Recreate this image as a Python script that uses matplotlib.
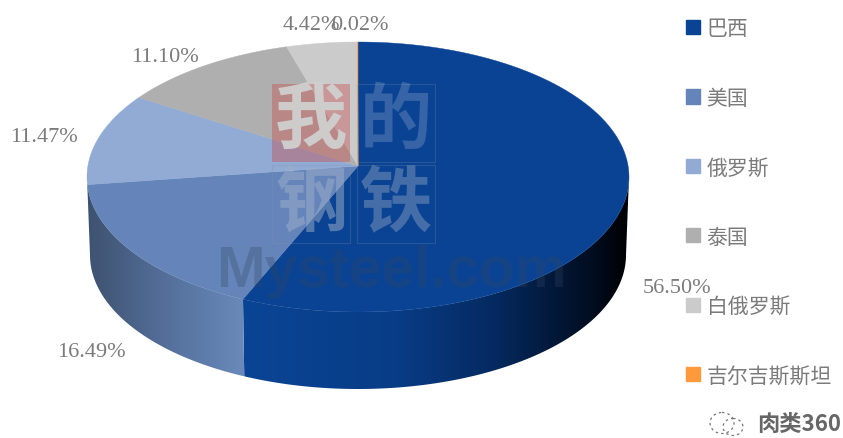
import matplotlib
matplotlib.use("Agg")
import matplotlib.pyplot as plt
import numpy as np
from matplotlib.colors import LinearSegmentedColormap
from matplotlib.patches import Ellipse, Patch, Polygon, Rectangle

plt.rcParams['font.family'] = ['Noto Sans CJK SC', 'DejaVu Sans']

countries = ["巴西", "美国", "俄罗斯", "泰国", "白俄罗斯", "吉尔吉斯斯坦"]
shares = [56.50, 16.49, 11.47, 11.10, 4.42, 0.02]
colors = ["#0a4393", "#6585ba", "#92abd4", "#afafaf", "#cbcbcb", "#ff9a3c"]
share_labels = ["56.50%", "16.49%", "11.47%", "11.10%", "4.42%", "0.02%"]
label_x = [677, 91, 44, 165, 311, 360]
label_y = [289, 353, 138, 57, 25, 25]

# geometry of the tilted pie, in pixels
cx, cy, rx, ry = 358, 178, 271, 135
apex_y = 167
depth = 78
shrink = 3

fig, ax = plt.subplots(figsize=(8.43, 4.39), dpi=100)
fig.subplots_adjust(0, 0, 1, 1)
ax.set_xlim(0, 843)
ax.set_ylim(439, 0)
ax.axis("off")


def top_arc(a, b):
    t = np.radians(np.linspace(a, b, 120))
    return np.c_[cx + rx * np.sin(t), cy - ry * np.cos(t)]


def bottom_arc(a, b):
    t = np.radians(np.linspace(a, b, 120))
    return np.c_[cx + (rx - shrink) * np.sin(t), cy + depth - (ry - 1) * np.cos(t)]


edges = np.cumsum([0] + shares) * 3.6
# the perspective of the original stretches the left side a little
edges = edges + np.interp(edges, [0, 203, 263, 304, 344, 360], [0, 1.7, 4, 2, 0.7, 0])

# side walls, only the front half shows
wall_maps = [
    LinearSegmentedColormap.from_list("brazil", [(0, "#0a4595"), (0.4, "#083c86"), (0.65, "#052a60"), (0.92, "#010b1c"), (1, "#000000")]),
    LinearSegmentedColormap.from_list("usa", ["#3e5270", "#546f9a", "#6a8abb"]),
]
for i, cmap in enumerate(wall_maps):
    a, b = max(edges[i], 90), min(edges[i + 1], 270)
    if i == 1:
        b = 270
    pts = np.vstack([top_arc(a, b), bottom_arc(b, a)])
    grad = np.linspace(0, 1, 256).reshape(1, -1)
    im = ax.imshow(grad, cmap=cmap, aspect="auto", zorder=1,
                   extent=[pts[:, 0].min(), pts[:, 0].max(), pts[:, 1].max(), pts[:, 1].min()])
    im.set_clip_path(Polygon(pts, transform=ax.transData))
ax.set_xlim(0, 843)
ax.set_ylim(439, 0)

# top face
for i in range(len(shares)):
    arc = top_arc(edges[i], edges[i + 1])
    ax.fill(np.r_[cx, arc[:, 0]], np.r_[apex_y, arc[:, 1]], color=colors[i], lw=0.3, zorder=2)

for s, x, y in zip(share_labels, label_x, label_y):
    ax.text(x, y, s, family="Liberation Serif", fontsize=16, color="#7b7b7b",
            ha="center", va="center", zorder=6)

# Mysteel watermark
ax.add_patch(Rectangle((272, 85), 78, 78, color="#c8504f", alpha=0.42, lw=0, zorder=3))
for x, y in [(357, 85), (272, 166), (357, 166)]:
    ax.add_patch(Rectangle((x, y), 78, 78, fill=False, ec="#7f93b0", alpha=0.25, lw=0.8, zorder=3))
for ch, x, y, c, al in [("我", 311, 122, "#d0d0d0", 0.95), ("的", 396, 122, "#9db2d2", 0.3),
                        ("钢", 311, 204, "#9fb0c8", 0.5), ("铁", 396, 204, "#9fb0c8", 0.4)]:
    ax.text(x, y, ch, fontsize=52, fontweight="bold", color=c, alpha=al,
            ha="center", va="center", zorder=4)
ax.text(391, 287, "Mysteel.com", family="Liberation Sans", fontweight="bold", fontsize=42,
        color="#33445f", alpha=0.3, ha="center", va="baseline", zorder=4)

handles = [Patch(color=c, label=n) for c, n in zip(colors, countries)]
ax.legend(handles=handles, loc="upper left", bbox_to_anchor=(676 / 843, 1 - 8 / 439),
          frameon=False, fontsize=15, labelcolor="#7b7b7b", handlelength=0.67, handleheight=0.67,
          handletextpad=0.3, labelspacing=2.275, borderpad=0.5, borderaxespad=0)

# wechat mark in the corner
for x, y, w, h in [(722, 424, 24, 21), (733, 428, 20, 17)]:
    ax.add_patch(Ellipse((x, y), w, h, fill=False, ec="#777777", lw=0.9, ls=(0, (2, 2.5)), zorder=6))
ax.text(799, 424, "肉类360", fontsize=16, fontweight="bold", color="#666666",
        ha="center", va="center", zorder=6)

fig.savefig("out.png", dpi=100, facecolor="white")
